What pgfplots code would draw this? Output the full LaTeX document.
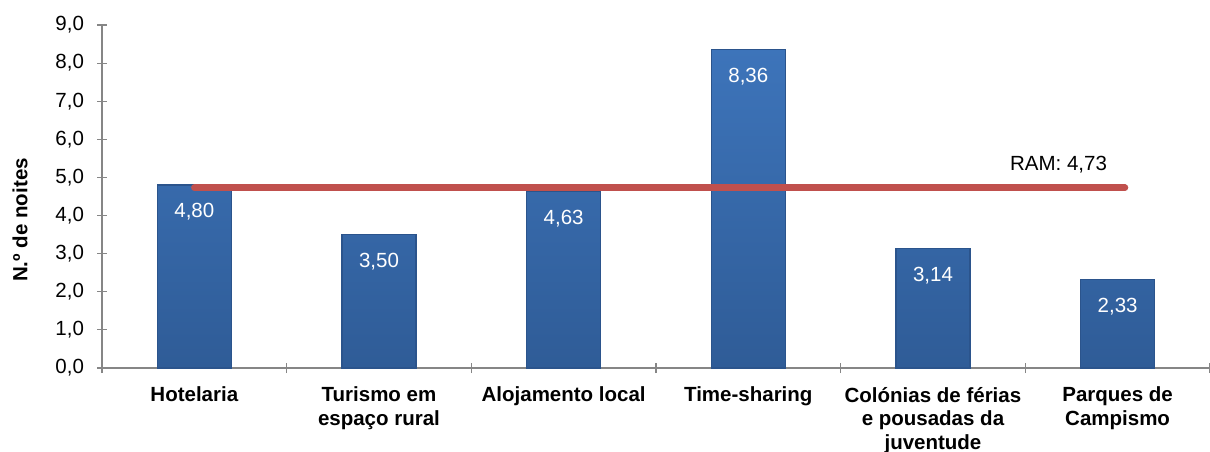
\documentclass[border=0pt]{standalone}
\usepackage{pgfplots}
\pgfplotsset{compat=1.18}
\usepackage{fontspec}
\setmainfont{Liberation Sans}
\definecolor{axisgrey}{HTML}{868686}
\definecolor{bartop}{HTML}{3D74BA}
\definecolor{barbot}{HTML}{2F5C97}
\definecolor{baredge}{HTML}{2B548C}
\definecolor{ramred}{HTML}{C0504D}
\newcommand\chartfont{\fontsize{20.5bp}{23.5bp}\selectfont}
\begin{document}
\begin{tikzpicture}
\chartfont
\begin{axis}[
  at={(102bp,84bp)}, anchor=south west,
  scale only axis, width=1108bp, height=343bp,
  xmin=-0.5, xmax=5.5, ymin=0, ymax=9,
  axis lines*=left,
  axis line style={draw=axisgrey, line width=1.2bp},
  ytick={0,1,...,9},
  yticklabel style={/pgf/number format/fixed, /pgf/number format/fixed zerofill,
    /pgf/number format/precision=1, /pgf/number format/use comma,
    /pgf/number format/assume math mode=true,
    font=\chartfont, text=black, xshift=-6bp},
  xtick={0,...,5},
  xticklabels={Hotelaria, Turismo em\\espaço rural, Alojamento local, Time-sharing, Colónias de férias\\e pousadas da\\juventude, Parques de\\Campismo},
  xticklabel style={font=\bfseries\chartfont, align=center, anchor=north, yshift=-7bp},
  major x tick style={draw=none},
  minor xtick={-0.5,0.5,...,5.5},
  tick align=center,
  major tick length=10bp, minor tick length=10bp,
  every tick/.style={draw=axisgrey, line width=1.2bp},
  clip=false,
]
\addplot[ybar, bar width=74bp, top color=bartop, bottom color=barbot, draw=baredge, line width=1.4bp,
  nodes near coords,
  nodes near coords style={/pgf/number format/fixed, /pgf/number format/fixed zerofill,
    /pgf/number format/precision=2, /pgf/number format/use comma,
    /pgf/number format/assume math mode=true},
  every node near coord/.append style={text=white, anchor=center, yshift=-27bp, font=\chartfont},
] coordinates {(0,4.80) (1,3.50) (2,4.63) (3,8.36) (4,3.14) (5,2.33)};
\addplot[ramred, line width=6.5bp, line cap=round] coordinates {(0,4.73) (5.04,4.73)};
\node[font=\chartfont] at (axis cs:4.68,5.33) {RAM: 4,73};
\end{axis}
\node[rotate=90, font=\bfseries\chartfont] at (20bp,232bp) {N.º de noites};
\pgfresetboundingbox
\path (0,0) rectangle (1210bp,452bp);
\end{tikzpicture}
\end{document}
